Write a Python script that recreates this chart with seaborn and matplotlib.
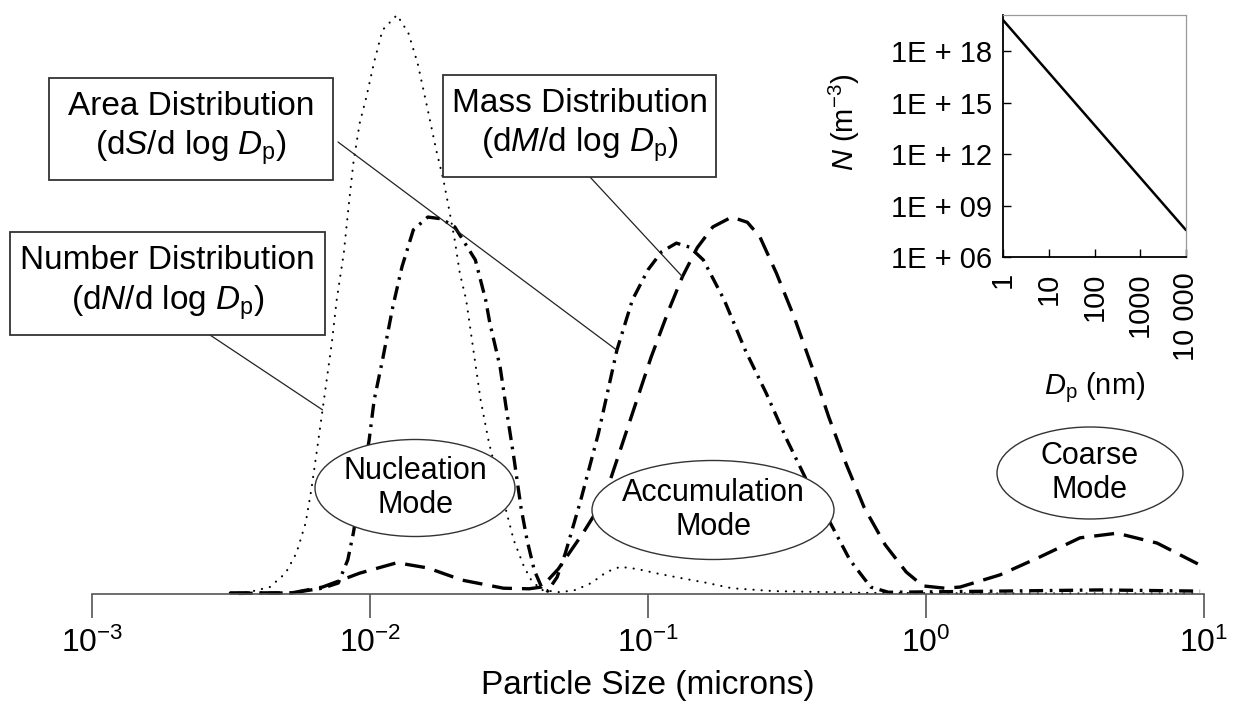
import matplotlib
matplotlib.use("Agg")
import matplotlib.pyplot as plt
from matplotlib.patches import Rectangle, Ellipse
from matplotlib.ticker import NullLocator, LogLocator
import seaborn as sns

# particle size (microns) vs relative height
number_size = [0.00313, 0.00365, 0.00436, 0.00497, 0.00544, 0.00587, 0.00615, 0.00650,
               0.00675, 0.00729, 0.00759, 0.00805, 0.00837, 0.00871, 0.00918, 0.00970,
               0.01035, 0.01109, 0.01250, 0.01374, 0.01483, 0.01614, 0.01730, 0.01837,
               0.01919, 0.02018, 0.02104, 0.02218, 0.02355, 0.02500, 0.02679, 0.03020,
               0.03289, 0.03581, 0.03802, 0.04140, 0.04831, 0.05495, 0.06252, 0.07096,
               0.07943, 0.09183, 0.1091, 0.1297, 0.1637, 0.2000, 0.2825, 0.6152, 1.845, 9.68]
number_val = [0.002, 0.003, 0.012, 0.036, 0.071, 0.123, 0.180, 0.261,
              0.318, 0.434, 0.508, 0.589, 0.668, 0.744, 0.813, 0.858,
              0.919, 0.974, 1.000, 0.969, 0.917, 0.836, 0.767, 0.715,
              0.668, 0.611, 0.554, 0.508, 0.421, 0.335, 0.261, 0.162,
              0.093, 0.047, 0.024, 0.007, 0.003, 0.007, 0.019, 0.038,
              0.047, 0.043, 0.035, 0.028, 0.019, 0.010, 0.005, 0.002, 0.001, 0.001]

area_size = [0.00337, 0.00524, 0.00675, 0.00769, 0.00832, 0.00871, 0.00918, 0.00993,
             0.01035, 0.01109, 0.01208, 0.01303, 0.01432, 0.01614, 0.01806, 0.02018,
             0.02393, 0.02606, 0.02698, 0.02938, 0.03097, 0.03289, 0.03491, 0.03673,
             0.03899, 0.04140, 0.04355, 0.04710, 0.05047, 0.05728, 0.06637, 0.07727,
             0.08790, 0.1000, 0.1119, 0.1265, 0.1413, 0.1581, 0.1879, 0.2239,
             0.2661, 0.3162, 0.3758, 0.4467, 0.5321, 0.6324, 0.7328, 1.845, 4.227, 9.68]
area_val = [0.001, 0.002, 0.010, 0.019, 0.059, 0.105, 0.171, 0.266,
            0.335, 0.404, 0.496, 0.565, 0.629, 0.651, 0.648, 0.634,
            0.577, 0.508, 0.468, 0.392, 0.318, 0.237, 0.150, 0.093,
            0.041, 0.012, 0.005, 0.029, 0.071, 0.162, 0.278, 0.421,
            0.508, 0.560, 0.591, 0.606, 0.599, 0.577, 0.508, 0.421,
            0.347, 0.266, 0.192, 0.128, 0.059, 0.012, 0.003, 0.005, 0.007, 0.005]

mass_size = [0.00313, 0.00524, 0.00675, 0.00918, 0.01250, 0.01614, 0.02143, 0.03020,
             0.03733, 0.04140, 0.04753, 0.05834, 0.06918, 0.07727, 0.08946, 0.1026,
             0.1189, 0.1330, 0.1503, 0.1711, 0.2000, 0.2277, 0.2525, 0.2897,
             0.3357, 0.3890, 0.4467, 0.5176, 0.5998, 0.7129, 0.8487, 0.9750,
             1.170, 1.326, 1.845, 2.570, 3.581, 4.864, 6.776, 9.68]
mass_val = [0.002, 0.002, 0.012, 0.036, 0.054, 0.045, 0.024, 0.010,
            0.009, 0.012, 0.043, 0.105, 0.162, 0.231, 0.323, 0.409,
            0.491, 0.548, 0.598, 0.634, 0.651, 0.642, 0.617, 0.554,
            0.478, 0.392, 0.306, 0.223, 0.149, 0.085, 0.038, 0.014,
            0.010, 0.012, 0.033, 0.064, 0.097, 0.105, 0.088, 0.050]

size_ticks = [1e-3, 1e-2, 1e-1, 1e0, 1e1]
size_labels = [r"$10^{-3}$", r"$10^{-2}$", r"$10^{-1}$", r"$10^{0}$", r"$10^{1}$"]

# inset: number concentration vs diameter
inset_dp = [1, 10000]
inset_n = [6.6e19, 3.7e7]
inset_xticks = [1, 10, 100, 1000, 10000]
inset_xlabels = ["1", "10", "100", "1000", "10 000"]
inset_yticks = [1e6, 1e9, 1e12, 1e15, 1e18]
inset_ylabels = ["1E + 06", "1E + 09", "1E + 12", "1E + 15", "1E + 18"]

W, H = 1240, 708


def fx(px):
    return px / W


def fy(py):
    return 1 - py / H


def main():
    sns.set_theme(style="white")
    plt.rcParams["font.family"] = ["Liberation Sans", "DejaVu Sans"]
    plt.rcParams["mathtext.fontset"] = "custom"
    plt.rcParams["mathtext.rm"] = "Liberation Sans"
    plt.rcParams["mathtext.it"] = "Liberation Sans:italic"
    plt.rcParams["mathtext.bf"] = "Liberation Sans:bold"
    plt.rcParams["mathtext.sf"] = "Liberation Sans"
    plt.rcParams["text.color"] = "black"
    plt.rcParams["axes.labelcolor"] = "black"
    plt.rcParams["xtick.color"] = "black"
    plt.rcParams["ytick.color"] = "black"

    fig = plt.figure(figsize=(W / 100, H / 100), dpi=100)
    fig.patch.set_facecolor("white")

    ax = fig.add_axes([fx(92), fy(594), (1204 - 92) / W, (594 - 15) / H])
    ax.set_xscale("log")
    ax.set_facecolor("none")

    sns.lineplot(x=number_size, y=number_val, ax=ax, color="black", lw=1.5,
                 linestyle=(0, (0.1, 3.8)), dash_capstyle="round",
                 estimator=None, sort=False, clip_on=False, zorder=2)
    sns.lineplot(x=area_size, y=area_val, ax=ax, color="black", lw=2.4,
                 linestyle=(0, (4.2, 2.0, 0.8, 2.0)),
                 estimator=None, sort=False, clip_on=False, zorder=2)
    sns.lineplot(x=mass_size, y=mass_val, ax=ax, color="black", lw=2.4,
                 linestyle=(0, (6.0, 3.0)),
                 estimator=None, sort=False, clip_on=False, zorder=2)

    ax.set_xlim(1e-3, 1e1)
    ax.set_ylim(0, 1.0)
    ax.set_yticks([])
    ax.set_xticks(size_ticks)
    ax.set_xticklabels(size_labels)
    ax.xaxis.set_minor_locator(NullLocator())
    for side in ["left", "top", "right"]:
        ax.spines[side].set_visible(False)
    ax.spines["bottom"].set_color("#555555")
    ax.spines["bottom"].set_linewidth(1.2)
    ax.tick_params(axis="x", which="major", direction="out", length=17, width=1.2,
                   color="#555555", pad=7, labelsize=23, labelcolor="black", bottom=True)
    ax.set_xlabel("Particle Size (microns)", fontsize=24, color="black")
    ax.xaxis.set_label_coords(0.5, (594 - 670) / 579)

    # labelled boxes
    boxes = [
        ((49, 78, 333, 180), "Area Distribution\n(d$S$/d log $D_\\mathrm{p}$)"),
        ((10, 232, 325, 335), "Number Distribution\n(d$N$/d log $D_\\mathrm{p}$)"),
        ((443, 75, 716, 177), "Mass Distribution\n(d$M$/d log $D_\\mathrm{p}$)"),
    ]
    for (x0, y0, x1, y1), label in boxes:
        fig.add_artist(Rectangle((fx(x0), fy(y1)), (x1 - x0) / W, (y1 - y0) / H,
                                 transform=fig.transFigure, facecolor="white",
                                 edgecolor="#333333", lw=1.3, zorder=6))
        fig.text(fx((x0 + x1) / 2), fy((y0 + y1) / 2), label, ha="center", va="center",
                 fontsize=24, linespacing=1.25, color="black", zorder=7)

    # leader lines from boxes to curves
    leaders = [((338, 142), (0.0773, 0.421)),
               ((210, 335), (0.00675, 0.318)),
               ((590, 177), (0.133, 0.548))]
    for (px, py), xy in leaders:
        ax.annotate("", xy=xy, xycoords="data", xytext=(fx(px), fy(py)),
                    textcoords="figure fraction",
                    arrowprops=dict(arrowstyle="-", color="#222222", lw=0.9,
                                    shrinkA=0, shrinkB=0), zorder=5)

    # mode ellipses
    modes = [((415, 488, 200, 97), "Nucleation\nMode"),
             ((713, 510, 242, 99), "Accumulation\nMode"),
             ((1090, 473, 186, 92), "Coarse\nMode")]
    for (cx, cy, w, h), label in modes:
        fig.add_artist(Ellipse((fx(cx), fy(cy)), w / W, h / H, transform=fig.transFigure,
                               facecolor="white", edgecolor="#333333", lw=1.0, zorder=4))
        fig.text(fx(cx), fy(cy), label, ha="center", va="center", fontsize=22,
                 linespacing=1.15, color="black", zorder=5)

    # inset
    ax_in = fig.add_axes([fx(1003), fy(257), (1186 - 1003) / W, (257 - 15) / H], zorder=8)
    ax_in.set_xscale("log")
    ax_in.set_yscale("log")
    sns.lineplot(x=inset_dp, y=inset_n, ax=ax_in, color="black", lw=1.8,
                 estimator=None, sort=False)
    ax_in.set_xlim(1, 1e4)
    ax_in.set_ylim(1e6, 1.3e20)
    ax_in.set_facecolor("white")
    ax_in.set_xticks(inset_xticks)
    ax_in.set_xticklabels(inset_xlabels, rotation=90)
    ax_in.set_yticks(inset_yticks)
    ax_in.set_yticklabels(inset_ylabels)
    ax_in.xaxis.set_minor_locator(LogLocator(base=10, subs=range(2, 10)))
    ax_in.yaxis.set_minor_locator(NullLocator())
    ax_in.tick_params(axis="y", which="major", direction="in", length=6, width=1.0,
                      color="black", labelsize=21, pad=8, left=True)
    ax_in.tick_params(axis="x", which="major", direction="in", length=6, width=1.0,
                      color="black", labelsize=21, pad=11, bottom=True)
    ax_in.tick_params(axis="x", which="minor", direction="in", length=3.5, width=0.8,
                      color="black", bottom=True)
    for side in ["left", "bottom"]:
        ax_in.spines[side].set_color("black")
        ax_in.spines[side].set_linewidth(1.3)
    for side in ["top", "right"]:
        ax_in.spines[side].set_color("#999999")
        ax_in.spines[side].set_linewidth(0.9)
    ax_in.set_ylabel("$N$ (m$^{-3}$)", fontsize=21)
    ax_in.yaxis.set_label_coords((862 - 1003) / 183, (257 - 122) / 242)
    ax_in.set_xlabel("$D_\\mathrm{p}$ (nm)", fontsize=21)
    ax_in.xaxis.set_label_coords(0.5, (257 - 370) / 242)

    fig.savefig("out.png", dpi=100, facecolor="white")


if __name__ == "__main__":
    main()
